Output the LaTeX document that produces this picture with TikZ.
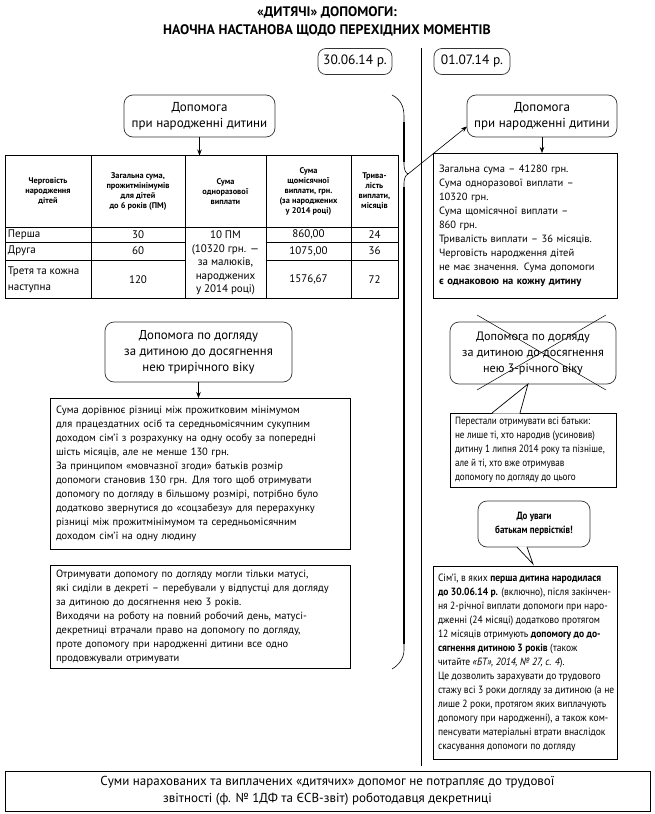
\documentclass[tikz,border=0pt]{standalone}
\usepackage{fontspec}
\setmainfont{PT Sans}
\newfontfamily\condfont[FakeStretch=0.87]{PT Sans}
\newfontfamily\condfontb[FakeStretch=0.91]{PT Sans}
\newfontfamily\semifont[FakeStretch=0.86]{PT Sans}
\usetikzlibrary{calc,arrows.meta}
\newcommand\fs[2]{\fontsize{#1}{#2}\selectfont}
\begin{document}
\begin{tikzpicture}[x=1pt,y=-1pt,
  every node/.style={inner sep=0pt, outer sep=0pt},
  rbox/.style={draw=black!80, line width=0.7pt, rounded corners=9pt, align=center, font=\fs{13}{16.5}},
  sbox/.style={draw, line width=0.7pt},
  tbox/.style={draw, line width=0.7pt, align=left, inner xsep=6pt, font=\fs{10.5}{14}},
  ltxt/.style={align=left, anchor=west},
  th/.style={align=center, font=\bfseries\fs{8.3}{10}},
  td/.style={align=center, font=\fs{11}{13.5}},
  arr/.style={-{Stealth[length=6pt,width=4.5pt]}, line width=0.6pt},
  thinl/.style={line width=0.6pt}]
\useasboundingbox (0,0) rectangle (654,814);

% title
\node[font=\bfseries\fs{13.8}{18}, align=center] (title) at (327,21) {«ДИТЯЧІ» ДОПОМОГИ:\\НАОЧНА НАСТАНОВА ЩОДО ПЕРЕХІДНИХ МОМЕНТІВ};

% dates
\node[rbox, rounded corners=8pt, minimum width=74pt, minimum height=26pt, font=\fs{13.5}{15}] (d1) at (355,61.5) {30.06.14 р.};
\node[rbox, rounded corners=8pt, minimum width=76pt, minimum height=26pt, font=\fs{13.5}{15}] (d2) at (472,61.5) {01.07.14 р.};

% divider
\coordinate (vt) at (421,48);
\coordinate (vb) at (421,766);
\draw[thinl] (vt) -- (vb);

% left birth
\node[rbox, minimum width=151pt, minimum height=42pt] (lbirth) at (199.5,116) {Допомога\\при народженні дитини};

% table
\node[sbox, minimum width=393pt, minimum height=143pt] (tbl) at (201.5,227) {};
\draw[arr] (lbirth.south) -- (lbirth.south |- tbl.north);
\draw[thinl] (91,155.5) -- (91,298.5) (185,155.5) -- (185,298.5) (266,155.5) -- (266,298.5) (351,155.5) -- (351,298.5);
\draw[thinl] (5,227) -- (398,227);
\draw[thinl] (5,242) -- (185,242) (266,242) -- (398,242);
\draw[thinl] (5,260) -- (185,260) (266,260) -- (398,260);

\node[th] (h1) at (48,191.5) {Черговість\\народження\\дітей};
\node[th] (h2) at (138,191.5) {Загальна сума,\\прожитмінімумів\\для дітей\\до 6 років (ПМ)};
\node[th] (h3) at (225.5,191.5) {Сума\\одноразової\\виплати};
\node[th] (h4) at (308.5,191.5) {Сума\\щомісячної\\виплати, грн.\\(за народжених\\у 2014 році)};
\node[th] (h5) at (374.5,191.5) {Трива-\\лість\\виплати,\\місяців};

\node[td, anchor=west] (r1a) at (8,234.5) {Перша};
\node[td] (r1b) at (138,234.5) {30};
\node[td] (r1d) at (308.5,234.5) {860,00};
\node[td] (r1e) at (374.5,234.5) {24};
\node[td, anchor=west] (r2a) at (8,251) {Друга};
\node[td] (r2b) at (138,251) {60};
\node[td] (r2d) at (308.5,251) {1075,00};
\node[td] (r2e) at (374.5,251) {36};
\node[td, anchor=west, align=left, font=\fs{11}{16}] (r3a) at (8,279.5) {Третя та кожна\\наступна};
\node[td] (r3b) at (138,279.5) {120};
\node[td] (r3d) at (308.5,279.5) {1576,67};
\node[td] (r3e) at (374.5,279.5) {72};
\node[td] (rc) at (225.5,263) {10 ПМ\\(10320 грн. —\\за малюків,\\народжених\\у 2014 році)};

% brace
\coordinate (cusp) at (408,174);
\draw[line width=0.6pt] (392,95) .. controls (400,99) and (404,106) .. (404,116) -- (404,165) .. controls (404,170) and (406,173) .. (cusp) .. controls (406,175) and (404,178) .. (404,183) -- (404,650) .. controls (404,658) and (399,665) .. (392,669);
\draw[line width=2.8pt] (404,122) -- (404,162) (404,187) -- (404,644);

% right birth
\node[rbox, minimum width=150pt, minimum height=42pt] (rbirth) at (542,116) {Допомога\\при народженні дитини};
\draw[arr] (cusp) -- ($(rbirth.south west)!0.25!(rbirth.north west)$);

\node[tbox, minimum width=184pt, minimum height=145pt, text width=172pt] (rinfo) at (525,225.5) {Загальна сума – 41280 грн.\\
Сума одноразової виплати –\\
10320 грн.\\
Сума щомісячної виплати –\\
860 грн.\\
Тривалість виплати – 36 місяців.\\
Черговість народження дітей\\
не має значення. Сума допомоги\\
\textbf{є однаковою на кожну дитину}};
\draw[arr] (rbirth.south) -- (rbirth.south |- rinfo.north);

% left care callout
\node[rbox, minimum width=187pt, minimum height=60pt, font=\fs{12.8}{16}] (lcall) at (198.5,352) {Допомога по догляду\\за дитиною до досягнення\\нею трирічного віку};

\node[tbox, minimum width=300pt, minimum height=151pt, text width=288pt] (lb1) at (200,473.5) {Сума дорівнює різниці між прожитковим мінімумом\\
для працездатних осіб та середньомісячним сукупним\\
доходом сім’ї з розрахунку на одну особу за попередні\\
шість місяців, але не менше 130 грн.\\
За принципом «мовчазної згоди» батьків розмір\\
допомоги становив 130 грн. Для того щоб отримувати\\
допомогу по догляду в більшому розмірі, потрібно було\\
додатково звернутися до «соцзабезу» для перерахунку\\
різниці між прожитмінімумом та середньомісячним\\
доходом сім’ї на одну людину};
\draw[arr] (lcall.south) -- (lcall.south |- lb1.north);

\node[tbox, minimum width=300pt, minimum height=103pt, text width=288pt] (lb2) at (200,616.5) {Отримувати допомогу по догляду могли тільки матусі,\\
які сиділи в декреті – перебували у відпустці для догляду\\
за дитиною до досягнення нею 3 років.\\
Виходячи на роботу на повний робочий день, матусі-\\
декретниці втрачали право на допомогу по догляду,\\
проте допомогу при народженні дитини все одно\\
продовжували отримувати};

% right crossed callout
\node[rbox, minimum width=166pt, minimum height=62pt, font=\fs{12.2}{16}] (rcall) at (533,353) {Допомога по догляду\\за дитиною до досягнення\\нею 3-річного віку};
\coordinate (x1) at (477,315);
\coordinate (x2) at (606,390);
\coordinate (x3) at (606,315);
\coordinate (x4) at (477,390);
\draw[line width=0.5pt] (x1) -- (x2) (x3) -- (x4);

\node[sbox, minimum width=166pt, minimum height=74pt] (rstop) at (533,450) {};
\node[ltxt, font=\condfont\fs{10.5}{14}] (rstoptxt) at ($(rstop.west)+(5,0)$) {Перестали отримувати всі батьки:\\
не лише ті, хто народив (усиновив)\\
дитину 1 липня 2014 року та пізніше,\\
але й ті, хто вже отримував\\
допомогу по догляду до цього};
\coordinate (t1) at ($(rstop.north west)+(42,0)$);
\coordinate (t2) at ($(rcall.south west)+(78,0)$);
\coordinate (t3) at ($(rstop.north west)+(70,0)$);
\fill[white] ($(t1)+(0.4,0.6)$) -- (t2) -- ($(t3)+(-0.4,0.6)$) -- cycle;
\draw[line width=0.7pt] (t1) -- (t2) -- (t3);

% attention callout
\node[rbox, minimum width=112pt, minimum height=46pt, font=\semifont\bfseries\fs{10.5}{14}] (attn) at (534,524) {До уваги\\батькам первістків!};

\node[sbox, minimum width=184pt, minimum height=193pt] (rfirst) at (525,662.5) {};
\node[ltxt, font=\condfontb\fs{10.5}{14}] (rfirsttxt) at ($(rfirst.west)+(5,0)$) {Сім’ї, в яких \textbf{перша дитина народилася}\\
\textbf{до 30.06.14 р.} (включно), після закінчен-\\
ня 2-річної виплати допомоги при наро-\\
дженні (24 місяці) додатково протягом\\
12 місяців отримують \textbf{допомогу до до-}\\
\textbf{сягнення дитиною 3 років} (також\\
читайте \textit{«БТ», 2014, № 27, с. 4}).\\
Це дозволить зарахувати до трудового\\
стажу всі 3 роки догляду за дитиною (а не\\
лише 2 роки, протягом яких виплачують\\
допомогу при народженні), а також ком-\\
пенсувати матеріальні втрати внаслідок\\
скасування допомоги по догляду};
\coordinate (a1) at ($(attn.south west)+(39,0)$);
\coordinate (a2) at ($(rfirst.north west)+(100,-2)$);
\coordinate (a3) at ($(attn.south west)+(49,0)$);
\fill[white] ($(a1)+(0.4,-0.6)$) -- (a2) -- ($(a3)+(-0.4,-0.6)$) -- cycle;
\draw[line width=0.7pt] (a1) -- (a2) -- (a3);

% bottom
\node[sbox, minimum width=645pt, minimum height=40pt, align=center, font=\fs{13}{17}] (bottom) at (327.5,791) {Суми нарахованих та виплачених «дитячих» допомог не потрапляє до трудової\\звітності (ф. № 1ДФ та ЄСВ-звіт) роботодавця декретниці};
\end{tikzpicture}
\end{document}
